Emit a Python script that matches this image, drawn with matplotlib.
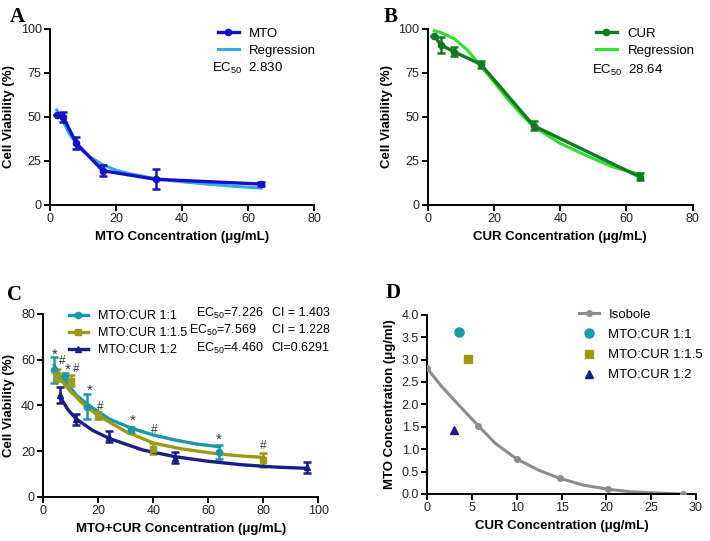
import matplotlib
matplotlib.use("Agg")
import matplotlib.pyplot as plt
from matplotlib.lines import Line2D
from matplotlib.ticker import FormatStrFormatter

plt.rcParams["font.family"] = ["Liberation Sans", "DejaVu Sans"]
plt.rcParams["mathtext.fontset"] = "custom"
plt.rcParams["mathtext.rm"] = "Liberation Sans"
plt.rcParams["mathtext.it"] = "Liberation Sans:italic"

# ---- panel A: MTO alone ----
mto_x = [2, 4, 8, 16, 32, 64]
mto_y = [51, 50, 35, 19.5, 14.6, 11.9]
mto_err = [0, 2.8, 3.4, 3.0, 5.7, 1.0]
mto_fit_x = [2, 3, 4, 6, 8, 10, 12, 16, 20, 24, 32, 40, 48, 56, 64]
mto_fit_y = [54, 51, 47.5, 40, 35, 30.5, 27.5, 22.8, 19.8, 17.8, 15, 13.2, 11.8, 10.6, 9.6]

# ---- panel B: CUR alone ----
cur_x = [2, 4, 8, 16, 32, 64]
cur_y = [96, 91, 87, 80, 45, 16]
cur_err = [0, 4.5, 2.5, 2.0, 2.5, 2.0]
cur_fit_x = [2, 4, 8, 12, 16, 20, 24, 28, 32, 40, 48, 56, 64]
cur_fit_y = [99, 98, 94.5, 88, 79, 70, 60.5, 52, 44.5, 35, 28, 21.5, 17.5]

# ---- panel C: combinations ----
c11_x = [4, 8, 16, 32, 64]
c11_y = [55.5, 52.8, 39.4, 29.2, 19.6]
c11_err = [5.5, 1.5, 5.5, 1.5, 3.0]
c11_fit_x = [4, 6, 8, 12, 16, 24, 32, 40, 48, 56, 64]
c11_fit_y = [57.5, 53, 50.5, 44.5, 40.5, 34, 30, 27, 24.8, 23, 21.9]

c115_x = [5, 10, 20, 40, 80]
c115_y = [53.3, 50.8, 35.5, 21, 16.1]
c115_err = [2.5, 2.5, 1.5, 2.3, 3.2]
c115_fit_x = [5, 7.5, 10, 15, 20, 30, 40, 50, 60, 70, 80]
c115_fit_y = [54, 49.5, 46, 40, 35.5, 28.5, 23.5, 21, 19.3, 18, 17.2]

c12_x = [6, 12, 24, 48, 96]
c12_y = [44.5, 33.9, 26.3, 17.1, 12.8]
c12_err = [3.5, 2.5, 2.5, 2.5, 2.5]
c12_fit_x = [6, 9, 12, 18, 24, 36, 48, 60, 72, 84, 96]
c12_fit_y = [44, 38, 34, 29, 25.5, 20.5, 17.5, 15.5, 14, 13, 12.4]

star_x = [4, 8.8, 16.7, 32.5, 63.9]
star_y = [62.3, 55.7, 46.2, 33.1, 25.0]
hash_x = [7.0, 12.1, 20.6, 40.2, 80]
hash_y = [59.6, 55.8, 39.1, 29.2, 22.3]

combo_labels = ["MTO:CUR 1:1", "MTO:CUR 1:1.5", "MTO:CUR 1:2"]
combo_ec50 = ["7.226", "7.569", "4.460"]
combo_ci = ["CI = 1.403", "CI = 1.228", "CI=0.6291"]

# ---- panel D: isobologram ----
iso_x = [0, 5.7, 10, 14.8, 20.2, 28.6]
iso_y = [2.8, 1.52, 0.78, 0.35, 0.105, 0.0]
iso_curve_x = [0, 1.6, 3.5, 5.7, 7.6, 10, 12.4, 14.8, 17.4, 20.2, 22.7, 25.3, 28.6]
iso_curve_y = [2.8, 2.4, 1.99, 1.52, 1.13, 0.78, 0.535, 0.35, 0.2, 0.105, 0.05, 0.025, 0.0]
combo_cur = [3.58, 4.51, 2.95]
combo_mto = [3.61, 3.02, 1.42]

BLUE = "#1212c4"
LBLUE = "#36a8e6"
DGREEN = "#0f7a20"
LGREEN = "#30de30"
TEAL = "#1a98a8"
OLIVE = "#9c9a14"
NAVY = "#1c1c86"
GRAY = "#8c8c8c"

TICK_FS = 9
LABEL_FS = 9.5
LEG_FS = 9.5
LEG_C_FS = 9


def style_axes(ax):
    for side in ("top", "right"):
        ax.spines[side].set_visible(False)
    for side in ("left", "bottom"):
        ax.spines[side].set_linewidth(1.4)
    ax.tick_params(direction="out", length=4, width=1.4, labelsize=TICK_FS,
                   labelcolor="#222222", pad=2)


fig = plt.figure(figsize=(7.1, 5.41), dpi=100)

# A
axA = fig.add_axes([0.0704, 0.6211, 0.3719, 0.3253])
axA.plot(mto_fit_x, mto_fit_y, color=LBLUE, lw=2.2, zorder=2)
axA.errorbar(mto_x, mto_y, yerr=mto_err, color=BLUE, lw=2.4, marker="o", ms=4.5,
             capsize=3, capthick=1.8, elinewidth=1.8, zorder=3)
axA.set_xlim(0, 80)
axA.set_ylim(0, 100)
axA.set_xticks([0, 20, 40, 60, 80])
axA.set_yticks([0, 25, 50, 75, 100])
axA.set_xlabel("MTO Concentration (μg/mL)", fontsize=LABEL_FS, fontweight="bold")
axA.set_ylabel("Cell Viability (%)", fontsize=LABEL_FS, fontweight="bold")
style_axes(axA)
axA.legend([Line2D([], [], color=BLUE, lw=2.4, marker="o", ms=4.5),
            Line2D([], [], color=LBLUE, lw=2.2)], ["MTO", "Regression"],
           loc="upper left", bbox_to_anchor=(0.6, 1.06), frameon=False,
           fontsize=LEG_FS, handlelength=1.6, handletextpad=0.8, labelspacing=0.35,
           borderpad=0.2)
axA.text(49.2, 77.3, "EC$_{50}$  2.830", fontsize=LEG_FS, va="center", ha="left")

# B
axB = fig.add_axes([0.6024, 0.6211, 0.3732, 0.3253])
axB.plot(cur_fit_x, cur_fit_y, color=LGREEN, lw=2.2, zorder=2)
axB.errorbar(cur_x, cur_y, yerr=cur_err, color=DGREEN, lw=2.4, marker="o", ms=4.5,
             capsize=3, capthick=1.8, elinewidth=1.8, zorder=3)
axB.set_xlim(0, 80)
axB.set_ylim(0, 100)
axB.set_xticks([0, 20, 40, 60, 80])
axB.set_yticks([0, 25, 50, 75, 100])
axB.set_xlabel("CUR Concentration (μg/mL)", fontsize=LABEL_FS, fontweight="bold")
axB.set_ylabel("Cell Viability (%)", fontsize=LABEL_FS, fontweight="bold")
style_axes(axB)
axB.legend([Line2D([], [], color=DGREEN, lw=2.4, marker="o", ms=4.5),
            Line2D([], [], color=LGREEN, lw=2.2)], ["CUR", "Regression"],
           loc="upper left", bbox_to_anchor=(0.6, 1.06), frameon=False,
           fontsize=LEG_FS, handlelength=1.6, handletextpad=0.8, labelspacing=0.35,
           borderpad=0.2)
axB.text(49.7, 76.5, "EC$_{50}$  28.64", fontsize=LEG_FS, va="center", ha="left")

# C
axC = fig.add_axes([0.061, 0.0819, 0.3873, 0.3377])
series = [
    (c11_x, c11_y, c11_err, c11_fit_x, c11_fit_y, TEAL, "o"),
    (c115_x, c115_y, c115_err, c115_fit_x, c115_fit_y, OLIVE, "s"),
    (c12_x, c12_y, c12_err, c12_fit_x, c12_fit_y, NAVY, "^"),
]
for x, y, e, fx, fy, col, mk in series:
    axC.plot(fx, fy, color=col, lw=2.4)
    axC.errorbar(x, y, yerr=e, color=col, fmt=mk, ms=4.5, capsize=3, capthick=1.8,
                 elinewidth=1.8)
for sx, sy in zip(star_x, star_y):
    axC.text(sx, sy, "*", fontsize=11, ha="center", va="center", color="#333333")
for hx, hy in zip(hash_x, hash_y):
    axC.text(hx, hy, "#", fontsize=8.5, ha="center", va="center", color="#333333")
axC.set_xlim(0, 100)
axC.set_ylim(0, 80)
axC.set_xticks([0, 20, 40, 60, 80, 100])
axC.set_yticks([0, 20, 40, 60, 80])
axC.set_xlabel("MTO+CUR Concentration (μg/mL)", fontsize=LABEL_FS, fontweight="bold")
axC.set_ylabel("Cell Viability (%)", fontsize=LABEL_FS, fontweight="bold")
style_axes(axC)
leg_handles = [Line2D([], [], color=col, lw=2.4, marker=mk, ms=4.5)
               for (_, _, _, _, _, col, mk) in series]
axC.legend(leg_handles, combo_labels, loc="upper left", bbox_to_anchor=(0.06, 1.07),
           frameon=False, fontsize=LEG_C_FS, handlelength=1.55, handletextpad=0.8,
           labelspacing=0.4, borderpad=0.2)
row_y = [80.3, 73.0, 65.0]
ec_x = [55.5, 53.0, 55.5]
for yy, ex, ec, ci in zip(row_y, ec_x, combo_ec50, combo_ci):
    axC.text(ex, yy, "EC$_{50}$=" + ec, fontsize=LEG_C_FS, va="center", ha="left")
    axC.text(83.0, yy, ci, fontsize=LEG_C_FS, va="center", ha="left")

# D
axD = fig.add_axes([0.6018, 0.0869, 0.3781, 0.3314])
axD.plot(iso_curve_x, iso_curve_y, color=GRAY, lw=2.2, zorder=2,
         solid_joinstyle="round")
axD.plot(iso_x, iso_y, color=GRAY, lw=0, marker="o", ms=4, zorder=3)
axD.plot(combo_cur[0], combo_mto[0], "o", color=TEAL, ms=6.5, lw=0)
axD.plot(combo_cur[1], combo_mto[1], "s", color=OLIVE, ms=6, lw=0)
axD.plot(combo_cur[2], combo_mto[2], "^", color=NAVY, ms=6, lw=0)
axD.set_xlim(0, 30)
axD.set_ylim(0, 4.0)
axD.set_xticks([0, 5, 10, 15, 20, 25, 30])
axD.set_yticks([0, 0.5, 1.0, 1.5, 2.0, 2.5, 3.0, 3.5, 4.0])
axD.yaxis.set_major_formatter(FormatStrFormatter("%.1f"))
axD.set_xlabel("CUR Concentration (μg/mL)", fontsize=LABEL_FS, fontweight="bold")
axD.set_ylabel("MTO Concentration (μg/ml)", fontsize=LABEL_FS, fontweight="bold")
style_axes(axD)
d_handles = [Line2D([], [], color=GRAY, lw=2.2, marker="o", ms=4),
             Line2D([], [], color=TEAL, lw=0, marker="o", ms=6.5),
             Line2D([], [], color=OLIVE, lw=0, marker="s", ms=6),
             Line2D([], [], color=NAVY, lw=0, marker="^", ms=6)]
axD.legend(d_handles, ["Isobole"] + combo_labels, loc="upper left",
           bbox_to_anchor=(0.53, 1.085), frameon=False, fontsize=LEG_FS,
           handlelength=1.5, handletextpad=0.75, labelspacing=0.6, borderpad=0.2)

# panel letters
for lx, ly, letter in [(17, 17, "A"), (391, 17, "B"), (15, 295, "C"), (393, 293, "D")]:
    fig.text(lx / 710, 1 - ly / 541, letter, fontsize=15, fontweight="bold",
             family="Liberation Serif", ha="center", va="center")

fig.savefig("out.png", dpi=100)
